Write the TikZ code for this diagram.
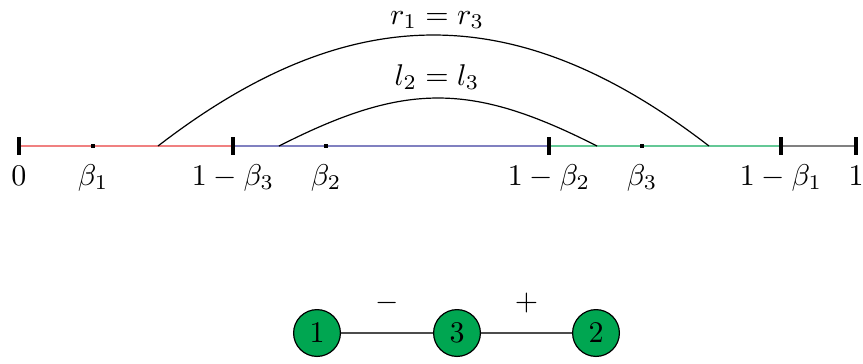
\documentclass[tikz,border=0pt]{standalone}
\usetikzlibrary{calc}
\definecolor{segred}{RGB}{240,128,128}
\definecolor{segblue}{RGB}{128,128,192}
\definecolor{seggreen}{RGB}{100,200,150}
\definecolor{seggray}{RGB}{128,128,128}
\definecolor{nodegreen}{RGB}{0,166,81}
\tikzset{
  tickmark/.style={line width=1.3pt},
  seg/.style={line width=0.45pt},
  dotmark/.style={fill=black, minimum width=1.6pt, minimum height=1.4pt, inner sep=0pt, rectangle},
  lbl/.style={anchor=base, inner sep=0pt},
  arcline/.style={line width=0.4pt},
  vert/.style={circle, draw=black, fill=nodegreen, minimum size=15.6pt, inner sep=0pt, line width=0.4pt},
  edgeline/.style={line width=0.4pt, draw=black!70}
}
\begin{document}
\begin{tikzpicture}[x=0.3333pt,y=-0.3333pt]
\useasboundingbox (0,0) rectangle (863,363);
% tick positions
\coordinate (t0) at (19,146);
\coordinate (t1) at (233,146);
\coordinate (t2) at (549,146);
\coordinate (t3) at (781,146);
\coordinate (t4) at (856,146);
% segments
\draw[seg, segred] (t0) -- (t1);
\draw[seg, segblue] (t1) -- (t2);
\draw[seg, seggreen] (t2) -- (t3);
\draw[seg, seggray] (t3) -- (t4);
% ticks
\foreach \t in {t0,t1,t2,t3,t4}{
  \draw[tickmark] ($(\t)+(0,-9)$) -- ($(\t)+(0,9)$);
}
% dots
\node[dotmark] (d1) at (93,146) {};
\node[dotmark] (d2) at (326,146) {};
\node[dotmark] (d3) at (642,146) {};
% labels
\node[lbl] (l0) at (19,185) {$0$};
\node[lbl] (lb1) at (93,185) {$\beta_1$};
\node[lbl] (l1) at (233,185) {$1-\beta_3$};
\node[lbl] (lb2) at (326,185) {$\beta_2$};
\node[lbl] (l2) at (549,185) {$1-\beta_2$};
\node[lbl] (lb3) at (642,185) {$\beta_3$};
\node[lbl] (l3) at (781,185) {$1-\beta_1$};
\node[lbl] (l4) at (856,185) {$1$};
% arcs
\coordinate (a1) at (158,146);
\coordinate (a2) at (709,146);
\coordinate (b1) at (279,146);
\coordinate (b2) at (597,146);
\draw[arcline] (a1) .. controls (350,-2) and (517,-2) .. (a2);
\draw[arcline] (b1) .. controls (405,82) and (471,82) .. (b2);
\node[lbl] (rr) at (437,24) {$r_1=r_3$};
\node[lbl] (ll) at (437,85) {$l_2=l_3$};
% graph
\node[vert] (v1) at (317,333) {$1$};
\node[vert] (v3) at (457,333) {$3$};
\node[vert] (v2) at (596,333) {$2$};
\draw[edgeline] (v1) -- node[above=3pt, black] {$-$} (v3);
\draw[edgeline] (v3) -- node[above=3pt, black] {$+$} (v2);
\end{tikzpicture}
\end{document}
